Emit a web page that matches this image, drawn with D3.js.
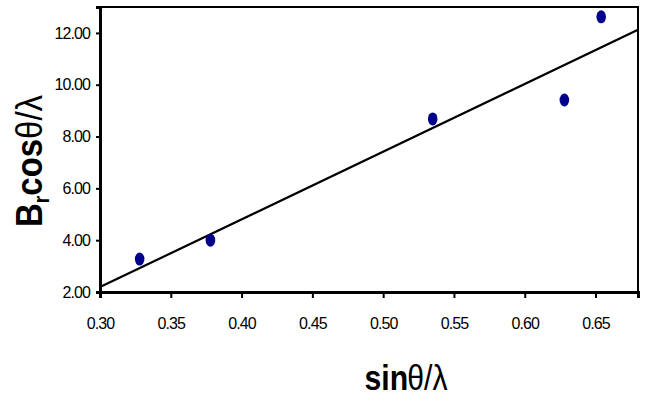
<!DOCTYPE html>
<html>
<head>
<meta charset="utf-8">
<script src="https://cdn.jsdelivr.net/npm/d3@7"></script>
<style>
  body { margin: 0; background: #fff; }
  svg { display: block; }
  .tick text { font-family: "Liberation Sans", Arial, sans-serif; font-size: 16px; letter-spacing: -0.9px; fill: #000; }
</style>
</head>
<body>
<script>
// measured points
let sinThetaOverLambda = [0.328, 0.378, 0.535, 0.628, 0.654]
let bCosThetaOverLambda = [3.27, 4.00, 8.68, 9.41, 12.62]
// linear fit, end points
let fitX = [0.30, 0.68]
let fitY = [2.19, 12.12]
let xTicks = [0.30, 0.35, 0.40, 0.45, 0.50, 0.55, 0.60, 0.65]
let yTicks = [2, 4, 6, 8, 10, 12]

let W = 645, H = 403
let m = {l: 100, r: 7, t: 7, b: 111}

let svg = d3.select('body').append('svg').attr('width', W).attr('height', H)

let x = d3.scaleLinear().domain([0.30, 0.68]).range([m.l, W - m.r])
let y = d3.scaleLinear().domain([2, 13]).range([H - m.b, m.t])

// frame
svg.append('rect')
  .attr('x', m.l).attr('y', m.t)
  .attr('width', W - m.r - m.l).attr('height', H - m.b - m.t)
  .attr('fill', 'none').attr('stroke', '#000').attr('stroke-width', 2)

let xAxis = svg.append('g').attr('transform', 'translate(0,' + (H - m.b) + ')')
  .call(d3.axisBottom(x).tickValues(xTicks).tickFormat(d3.format('.2f')).tickSize(6).tickPadding(20))
xAxis.select('.domain').attr('stroke-width', 3)
xAxis.selectAll('.tick line').attr('stroke-width', 2)

let yAxis = svg.append('g').attr('transform', 'translate(' + m.l + ',0)')
  .call(d3.axisLeft(y).tickValues(yTicks).tickFormat(d3.format('.2f')).tickSize(4).tickPadding(6))
yAxis.select('.domain').attr('stroke-width', 3)
yAxis.selectAll('.tick line').attr('stroke-width', 2)

// fit line
svg.append('line')
  .attr('x1', x(fitX[0])).attr('y1', y(fitY[0]))
  .attr('x2', x(fitX[1])).attr('y2', y(fitY[1]))
  .attr('stroke', '#000').attr('stroke-width', 2.2)

// points
svg.append('g').selectAll('ellipse').data(sinThetaOverLambda).enter().append('ellipse')
  .attr('cx', function (d) { return x(d) })
  .attr('cy', function (d, i) { return y(bCosThetaOverLambda[i]) })
  .attr('rx', 4.8).attr('ry', 6.5)
  .attr('fill', '#00008b')

// axis titles (the original is squeezed sideways)
let xt = svg.append('text')
  .attr('transform', 'translate(406,390) scale(0.84,1)')
  .attr('text-anchor', 'middle')
  .style('font-family', '"Liberation Sans", Arial, sans-serif')
  .style('font-size', '36px').style('font-weight', 'bold')
xt.append('tspan').text('sin')
xt.append('tspan').style('font-weight', 'normal').attr('dx', -1).text('θ/λ')

let yt = svg.append('text')
  .attr('transform', 'translate(42,161) rotate(-90) scale(0.89,1)')
  .attr('text-anchor', 'middle')
  .style('font-family', '"Liberation Sans", Arial, sans-serif')
  .style('font-size', '37px').style('font-weight', 'bold')
yt.append('tspan').text('B')
yt.append('tspan').attr('dy', 7).style('font-size', '22px').text('r')
yt.append('tspan').attr('dy', -7).text('cos')
yt.append('tspan').style('font-weight', 'normal').text('θ/λ')
</script>
</body>
</html>
